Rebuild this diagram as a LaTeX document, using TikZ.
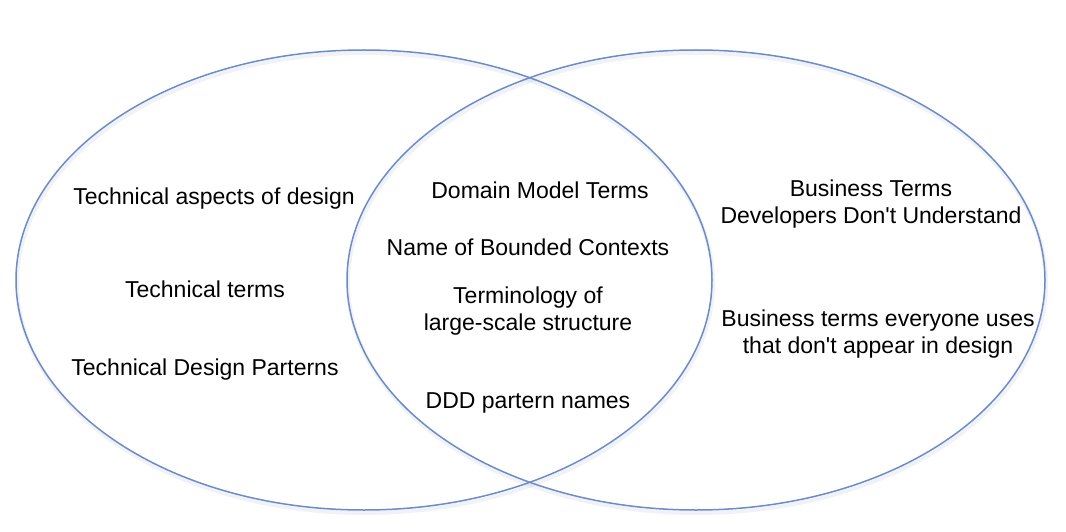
\documentclass[tikz,border=0pt]{standalone}
\usepackage{fontspec}
\setmainfont{Liberation Sans}
\definecolor{ringblue}{HTML}{6D8CC6}
\definecolor{glow}{HTML}{AEB6D0}
\begin{document}
\begin{tikzpicture}[x=1pt, y=-1pt,
  ring/.style={draw=ringblue, line width=1.5pt},
  ringshadow/.style={draw=glow, line width=4pt, opacity=0.18},
  term/.style={font=\fontsize{23}{27}\selectfont, align=center, inner sep=0pt}]
\useasboundingbox (0,0) rectangle (1066,532);
% shadows under the two sets
\draw[ringshadow] (365,283) ellipse [x radius=348, y radius=230];
\draw[ringshadow] (697,283) ellipse [x radius=349, y radius=230];
\draw[ring] (364,280) ellipse [x radius=348, y radius=230];
\draw[ring] (696,280) ellipse [x radius=349, y radius=230];
% left set
\node[term] (aspects) at (214,199) {Technical aspects of design};
\node[term] (techterms) at (205,289) {Technical terms};
\node[term] (patterns) at (205,370) {Technical Design Parterns};
% overlap
\node[term] (model) at (540,190) {Domain Model Terms};
\node[term] (contexts) at (528,247) {Name of Bounded Contexts};
\node[term] (structure) at (528,311) {Terminology of\\large-scale structure};
\node[term] (ddd) at (528,403) {DDD partern names};
% right set
\node[term] (notunderstood) at (871,204) {Business Terms\\Developers Don\textquotesingle t Understand};
\node[term] (everyone) at (878,334) {Business terms everyone uses\\that don\textquotesingle t appear in design};
\end{tikzpicture}
\end{document}
